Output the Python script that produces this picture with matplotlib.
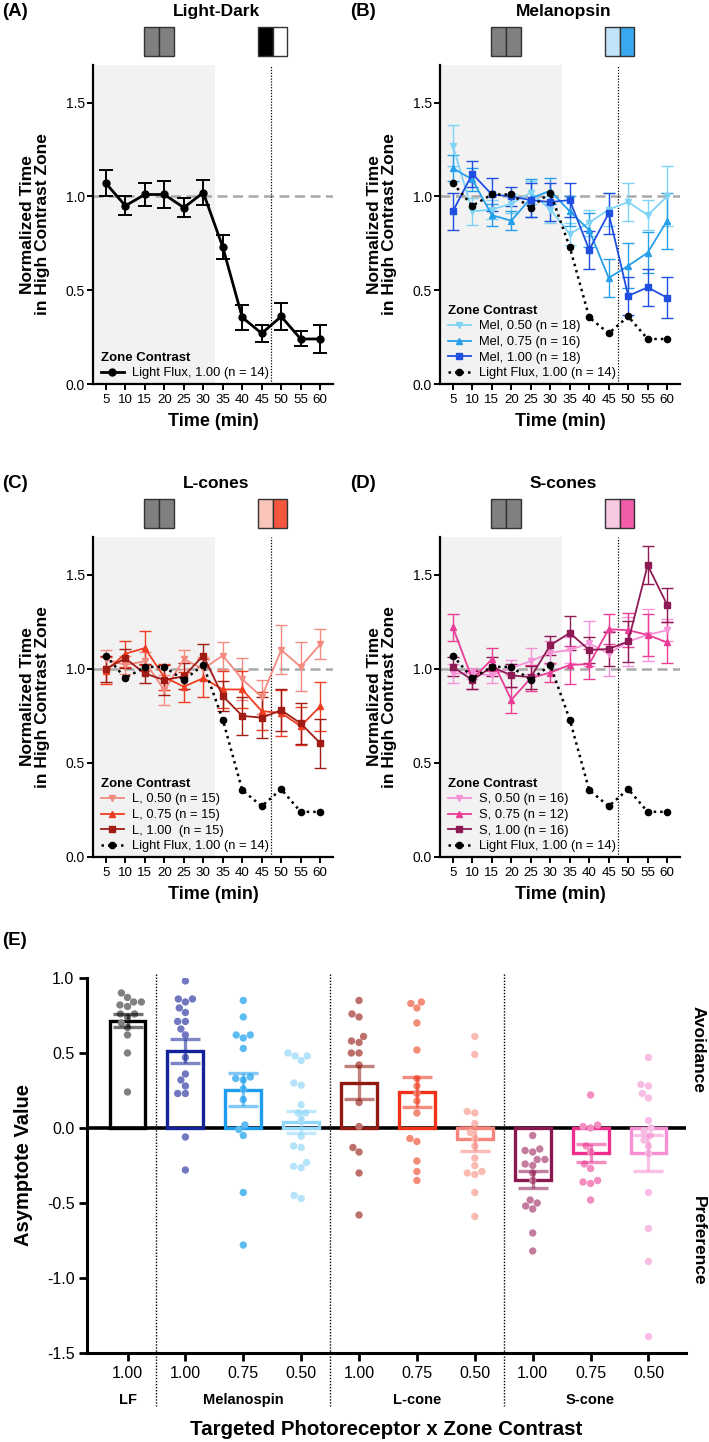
import numpy as np
import pandas as pd
import matplotlib
matplotlib.use("Agg")
import matplotlib.pyplot as plt
import matplotlib.transforms as mtransforms
from matplotlib.patches import Rectangle
import seaborn as sns

plt.rcParams['font.family'] = ['Liberation Sans', 'DejaVu Sans']
plt.rcParams['axes.unicode_minus'] = False

# =========================
# DATA: TIME COURSES (A-D)
# =========================
time_min = [5, 10, 15, 20, 25, 30, 35, 40, 45, 50, 55, 60]

lf_mean = [1.07, 0.95, 1.01, 1.01, 0.94, 1.02, 0.73, 0.355, 0.27, 0.36, 0.24, 0.24]
lf_sem = [0.07, 0.05, 0.06, 0.07, 0.05, 0.065, 0.065, 0.065, 0.045, 0.07, 0.04, 0.075]

mel50_mean = [1.27, 0.92, 0.93, 0.96, 1.02, 0.93, 0.80, 0.86, 0.93, 0.97, 0.90, 1.00]
mel50_sem = [0.11, 0.07, 0.05, 0.05, 0.06, 0.07, 0.06, 0.07, 0.09, 0.10, 0.08, 0.16]
mel75_mean = [1.15, 1.09, 0.90, 0.87, 0.99, 1.03, 0.92, 0.82, 0.565, 0.63, 0.70, 0.87]
mel75_sem = [0.07, 0.06, 0.06, 0.05, 0.10, 0.07, 0.08, 0.09, 0.10, 0.12, 0.11, 0.15]
mel100_mean = [0.92, 1.12, 1.01, 1.00, 0.98, 0.97, 0.98, 0.715, 0.91, 0.47, 0.515, 0.46]
mel100_sem = [0.10, 0.07, 0.09, 0.05, 0.09, 0.10, 0.09, 0.10, 0.11, 0.10, 0.10, 0.11]

l50_mean = [1.05, 1.02, 1.04, 0.885, 1.05, 1.00, 1.07, 0.945, 0.85, 1.10, 1.01, 1.13]
l50_sem = [0.05, 0.05, 0.05, 0.08, 0.05, 0.06, 0.07, 0.11, 0.09, 0.13, 0.13, 0.08]
l75_mean = [0.99, 1.08, 1.11, 0.955, 0.905, 0.95, 0.89, 0.89, 0.775, 0.765, 0.695, 0.80]
l75_sem = [0.07, 0.07, 0.09, 0.07, 0.08, 0.10, 0.10, 0.10, 0.10, 0.12, 0.10, 0.13]
l100_mean = [1.00, 1.055, 0.975, 0.94, 0.96, 1.07, 0.855, 0.75, 0.74, 0.78, 0.71, 0.605]
l100_sem = [0.07, 0.05, 0.05, 0.08, 0.07, 0.06, 0.08, 0.10, 0.11, 0.11, 0.11, 0.13]

s50_mean = [0.975, 0.975, 0.965, 1.005, 1.04, 1.085, 1.10, 1.135, 1.08, 1.145, 1.18, 1.205]
s50_sem = [0.05, 0.03, 0.04, 0.04, 0.07, 0.06, 0.07, 0.12, 0.12, 0.13, 0.14, 0.06]
s75_mean = [1.22, 0.945, 1.05, 0.835, 0.95, 0.98, 1.02, 1.025, 1.21, 1.205, 1.18, 1.14]
s75_sem = [0.07, 0.05, 0.06, 0.07, 0.07, 0.05, 0.10, 0.08, 0.08, 0.09, 0.11, 0.11]
s100_mean = [1.01, 0.94, 1.01, 0.965, 0.955, 1.125, 1.19, 1.10, 1.105, 1.145, 1.55, 1.34]
s100_sem = [0.05, 0.05, 0.05, 0.06, 0.06, 0.05, 0.09, 0.07, 0.09, 0.11, 0.10, 0.09]

# =========================
# DATA: ASYMPTOTES (E)
# =========================
cat_labels = ['1.00', '1.00', '0.75', '0.50', '1.00', '0.75', '0.50', '1.00', '0.75', '0.50']
group_names = ['LF', 'Melanospin', 'L-cone', 'S-cone']
group_centers = [0, 2, 5, 8]
bar_means = [0.715, 0.51, 0.255, 0.04, 0.30, 0.24, -0.075, -0.345, -0.17, -0.165]
bar_sems = [0.045, 0.08, 0.11, 0.075, 0.11, 0.10, 0.08, 0.055, 0.06, 0.12]

dots_lf = [0.90, 0.87, 0.84, 0.84, 0.82, 0.81, 0.76, 0.76, 0.74, 0.70, 0.67, 0.62, 0.50, 0.24]
dots_mel100 = [0.98, 0.86, 0.86, 0.84, 0.80, 0.77, 0.71, 0.71, 0.66, 0.62, 0.47, 0.36, 0.32,
               0.28, 0.23, 0.23, -0.06, -0.28]
dots_mel75 = [0.85, 0.74, 0.62, 0.62, 0.60, 0.53, 0.34, 0.33, 0.32, 0.26, 0.19, 0.02, -0.01,
              -0.05, -0.43, -0.78]
dots_mel50 = [0.50, 0.48, 0.48, 0.45, 0.30, 0.285, 0.155, 0.10, 0.10, 0.055, -0.055, -0.12,
              -0.13, -0.23, -0.255, -0.265, -0.45, -0.47]
dots_l100 = [0.85, 0.76, 0.74, 0.61, 0.58, 0.57, 0.50, 0.50, 0.42, 0.17, 0.01, -0.13, -0.16,
             -0.30, -0.58]
dots_l75 = [0.84, 0.83, 0.80, 0.70, 0.52, 0.33, 0.28, 0.23, 0.18, 0.10, -0.07, -0.09, -0.22,
            -0.29, -0.35]
dots_l50 = [0.61, 0.49, 0.11, 0.10, 0.03, -0.03, -0.07, -0.12, -0.20, -0.25, -0.29, -0.30,
            -0.31, -0.43, -0.59]
dots_s100 = [-0.05, -0.14, -0.15, -0.16, -0.21, -0.21, -0.24, -0.25, -0.30, -0.35, -0.48,
             -0.50, -0.52, -0.54, -0.70, -0.82]
dots_s75 = [0.22, 0.02, 0.01, 0.00, -0.12, -0.16, -0.24, -0.27, -0.35, -0.36, -0.37, -0.48]
dots_s50 = [0.47, 0.29, 0.28, 0.23, 0.20, 0.05, 0.00, -0.02, -0.05, -0.08, -0.12, -0.17,
            -0.43, -0.67, -0.89, -1.39]

# =========================
# COLOURS
# =========================
MEL_COLS = ['#7fd3f6', '#27a0ec', '#1f4fe0']
L_COLS = ['#f48a80', '#f03c20', '#a01c14']
S_COLS = ['#f592d8', '#eb3c96', '#8d1a55']

bar_cols = ['#000000', '#14239a', '#1e9cf0', '#8fd8f8', '#8e1a12', '#f03218', '#f7847a',
            '#8a1850', '#ee2f8e', '#f68fd4']
dot_cols = ['#808080', '#7278c0', '#5cbcf2', '#b5e4fa', '#bd6f6c', '#f48a78', '#f9bab2',
            '#c47c9e', '#f48cc0', '#f8bde3']

# =========================
# FIGURE
# =========================
fig = plt.figure(figsize=(7.09, 14.42), dpi=100)
fig.patch.set_facecolor('white')

TICK_FS = 10
LAB_FS = 12.5


def style_time_axis(ax):
    ax.set_xlim(1.7, 63.3)
    ax.set_ylim(0, 1.7)
    ax.set_xticks(time_min)
    ax.set_yticks([0, 0.5, 1.0, 1.5])
    ax.set_yticklabels(['0.0', '0.5', '1.0', '1.5'])
    for side in ['top', 'right']:
        ax.spines[side].set_visible(False)
    for side in ['left', 'bottom']:
        ax.spines[side].set_linewidth(1.6)
    ax.tick_params(axis='both', width=1.4, length=4, labelsize=TICK_FS, pad=2)
    ax.tick_params(axis='x', pad=3, labelsize=9.6)
    ax.axvspan(1.7, 33, color='#f2f2f2', lw=0, zorder=0)
    ax.axhline(1.0, color='#a9a9a9', lw=1.8, ls=(0, (4, 2.2)), zorder=1)
    ax.axvline(47.5, color='black', lw=0.9, ls=(0, (1, 1.3)), zorder=1)
    ax.set_xlabel('Time (min)', fontsize=13, fontweight='bold', labelpad=5)
    ax.set_ylabel('Normalized Time\nin High Contrast Zone', fontsize=LAB_FS,
                  fontweight='bold', linespacing=1.0, labelpad=11)


def stim_boxes(ax, left_cols, right_cols):
    trans = mtransforms.blended_transform_factory(ax.transData, ax.transAxes)
    for centre, cols in [(18.6, left_cols), (47.8, right_cols)]:
        half = 3.8
        for k, c in enumerate(cols):
            x0 = centre - half + k * half
            ax.add_patch(Rectangle((x0, 1.028), half, 0.09, transform=trans,
                                   facecolor=c, edgecolor='#333333', lw=1.0,
                                   clip_on=False))


def draw_series(ax, mean, sem, color, marker, label, lw=1.3, ms=4.5, cap=4, elw=1.0):
    ax.errorbar(time_min, mean, yerr=sem, fmt='none', ecolor=color, elinewidth=elw,
                capsize=cap, capthick=elw, zorder=3)
    ax.plot(time_min, mean, color=color, marker=marker, ms=ms, lw=lw, label=label, zorder=4)


def draw_lf_dotted(ax):
    ax.plot(time_min, lf_mean, color='black', ls=(0, (1, 1.6)), lw=1.8, marker='o', ms=4.5,
            label='Light Flux, 1.00 (n = 14)', zorder=5)


def add_legend(ax):
    leg = ax.legend(loc='lower left', bbox_to_anchor=(0.0, -0.01), frameon=False,
                    title='Zone Contrast', fontsize=9.3, title_fontsize=9.5,
                    handlelength=1.8, handletextpad=0.6, labelspacing=0.28,
                    borderaxespad=0.2, alignment='left')
    leg.get_title().set_fontweight('bold')
    leg.set_zorder(6)


# ---- Panel A ----
axA = fig.add_axes([0.1312, 0.7337, 0.3385, 0.2212])
style_time_axis(axA)
axA.errorbar(time_min, lf_mean, yerr=lf_sem, fmt='none', ecolor='black', elinewidth=1.4,
             capsize=5, capthick=1.4, zorder=3)
axA.plot(time_min, lf_mean, color='black', marker='o', ms=5, lw=2.0,
         label='Light Flux, 1.00 (n = 14)', zorder=4)
add_legend(axA)
stim_boxes(axA, ['#808080', '#808080'], ['#000000', '#ffffff'])

# ---- Panel B ----
axB = fig.add_axes([0.6206, 0.7337, 0.3385, 0.2212])
style_time_axis(axB)
draw_series(axB, mel50_mean, mel50_sem, MEL_COLS[0], 'v', 'Mel, 0.50 (n = 18)')
draw_series(axB, mel75_mean, mel75_sem, MEL_COLS[1], '^', 'Mel, 0.75 (n = 16)')
draw_series(axB, mel100_mean, mel100_sem, MEL_COLS[2], 's', 'Mel, 1.00 (n = 18)')
draw_lf_dotted(axB)
add_legend(axB)
stim_boxes(axB, ['#808080', '#808080'], ['#c2e4fb', '#3aa8f0'])

# ---- Panel C ----
axC = fig.add_axes([0.1312, 0.4057, 0.3385, 0.2219])
style_time_axis(axC)
draw_series(axC, l50_mean, l50_sem, L_COLS[0], 'v', 'L, 0.50 (n = 15)')
draw_series(axC, l75_mean, l75_sem, L_COLS[1], '^', 'L, 0.75 (n = 15)')
draw_series(axC, l100_mean, l100_sem, L_COLS[2], 's', 'L, 1.00  (n = 15)')
draw_lf_dotted(axC)
add_legend(axC)
stim_boxes(axC, ['#808080', '#808080'], ['#f9c5bb', '#f5563e'])

# ---- Panel D ----
axD = fig.add_axes([0.6206, 0.4057, 0.3385, 0.2219])
style_time_axis(axD)
draw_series(axD, s50_mean, s50_sem, S_COLS[0], 'v', 'S, 0.50 (n = 16)')
draw_series(axD, s75_mean, s75_sem, S_COLS[1], '^', 'S, 0.75 (n = 12)')
draw_series(axD, s100_mean, s100_sem, S_COLS[2], 's', 'S, 1.00 (n = 16)')
draw_lf_dotted(axD)
add_legend(axD)
stim_boxes(axD, ['#808080', '#808080'], ['#f9c8e2', '#f25ca8'])

# titles and panel letters
for ax, title in [(axA, 'Light-Dark'), (axB, 'Melanopsin'), (axC, 'L-cones'), (axD, 'S-cones')]:
    bb = ax.get_position()
    ty = 0.9917 if ax in (axA, axB) else 0.665
    fig.text((bb.x0 + bb.x1) / 2 + 0.005, ty, title, fontsize=12.5, fontweight='bold',
             ha='center', va='center')
for letter, x, y in [('(A)', 0.003, 0.9917), ('(B)', 0.494, 0.9917), ('(C)', 0.003, 0.665),
                     ('(D)', 0.494, 0.665), ('(E)', 0.003, 0.348)]:
    fig.text(x, y, letter, fontsize=13.5, fontweight='bold', ha='left', va='center')

# =========================
# PANEL E
# =========================
axE = fig.add_axes([0.1227, 0.0617, 0.845, 0.2601])
all_dots = [dots_lf, dots_mel100, dots_mel75, dots_mel50, dots_l100, dots_l75, dots_l50,
            dots_s100, dots_s75, dots_s50]
cat_keys = ['c%d' % i for i in range(len(cat_labels))]
df = pd.DataFrame({
    'cat': np.repeat(cat_keys, [len(d) for d in all_dots]),
    'value': np.concatenate(all_dots),
})

axE.axhline(0, color='black', lw=2.6, zorder=1)
axE.bar(range(len(bar_means)), bar_means, width=0.62, facecolor='none',
        edgecolor=bar_cols, lw=2.4, zorder=2)
sns.swarmplot(data=df, x='cat', y='value', hue='cat', order=cat_keys,
              palette=dict(zip(cat_keys, dot_cols)), size=5.3, legend=False, ax=axE,
              zorder=3)
for i, (m, s) in enumerate(zip(bar_means, bar_sems)):
    axE.errorbar(i, m, yerr=s, fmt='none', ecolor=bar_cols[i], alpha=0.55, elinewidth=2.4,
                 capsize=11, capthick=2.4, zorder=4)

axE.set_xlim(-0.7, 9.65)
axE.set_ylim(-1.5, 1.0)
axE.set_xticks(range(len(cat_labels)))
axE.set_xticklabels(cat_labels)
axE.set_yticks([-1.5, -1.0, -0.5, 0.0, 0.5, 1.0])
axE.set_yticklabels(['-1.5', '-1.0', '-0.5', '0.0', '0.5', '1.0'])
axE.set_xlabel('')
axE.set_ylabel('Asymptote Value', fontsize=14.5, fontweight='bold', labelpad=10)
for side in ['top', 'right']:
    axE.spines[side].set_visible(False)
for side in ['left', 'bottom']:
    axE.spines[side].set_linewidth(2.2)
axE.tick_params(axis='both', width=2.0, length=6, labelsize=11.5, pad=3)

transE = mtransforms.blended_transform_factory(axE.transData, axE.transAxes)
for xd in [0.5, 3.5, 6.5]:
    axE.plot([xd, xd], [1.01, -0.14], transform=transE, color='black', lw=1.0,
             ls=(0, (1, 1.2)), clip_on=False, zorder=1)
for name, xc in zip(group_names, group_centers):
    axE.text(xc, -0.125, name, transform=transE, fontsize=10.5, fontweight='bold',
             ha='center', va='center')

axE.text(0.5, -0.205, 'Targeted Photoreceptor x Zone Contrast', transform=axE.transAxes,
         fontsize=14.8, fontweight='bold', ha='center', va='center')
axE.text(1.02, 0.81, 'Avoidance', transform=axE.transAxes, fontsize=12.5,
         fontweight='bold', rotation=270, ha='center', va='center')
axE.text(1.02, 0.30, 'Preference', transform=axE.transAxes, fontsize=12.5,
         fontweight='bold', rotation=270, ha='center', va='center')

fig.savefig('out.png', dpi=100, facecolor='white')
